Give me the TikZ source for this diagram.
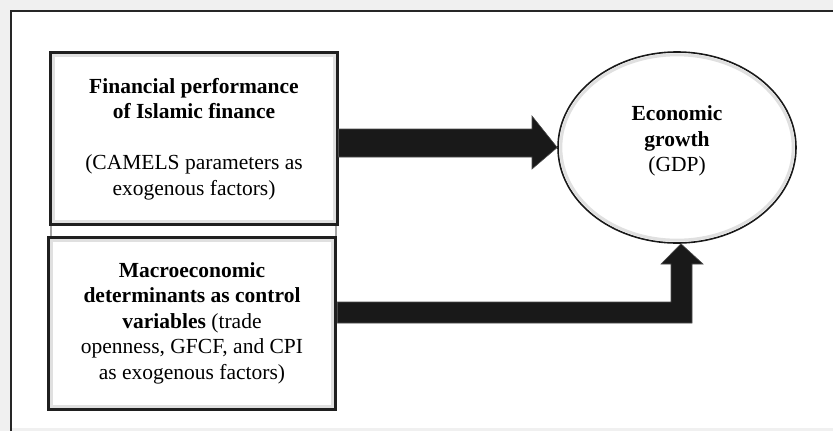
\documentclass[tikz,border=0pt]{standalone}
\usepackage{fontspec}
\setmainfont{Liberation Serif}
\usetikzlibrary{shapes.geometric,arrows.meta,calc}
\begin{document}
\begin{tikzpicture}[x=1bp,y=-1bp,
  boxstyle/.style={draw=black!88, line width=3bp, fill=white, minimum width=286bp, minimum height=172bp, inner sep=0pt},
  innershade/.style={draw=black!12, line width=3bp},
  txt/.style={align=center, font=\fontsize{21.5bp}{25.5bp}\selectfont},
  bigarrow/.style={draw=black!70, line width=0.6bp, fill=black!90}]
\useasboundingbox (0,0) rectangle (833,431);
\fill[black!6] (0,0) rectangle (833,431);
\fill[white] (10,11) rectangle (833,428);
\draw[black!85, line width=2.5bp] (11,431) -- (11,11) -- (833,11);
% gap band
\draw[black!35, line width=1.5bp] (51,224) rectangle (336,238);
% boxes
\node[boxstyle] (b1) at (194,138) {};
\draw[innershade] ($(b1.south west)+(4.5,-4.5)$) rectangle ($(b1.north east)+(-4.5,4.5)$);
\node[txt] (t1) at (194,139) {\textbf{Financial performance}\\\textbf{of Islamic finance}\\[25.5bp](CAMELS parameters as\\exogenous factors)};
\node[boxstyle] (b2) at (192,323) {};
\draw[innershade] ($(b2.south west)+(4.5,-4.5)$) rectangle ($(b2.north east)+(-4.5,4.5)$);
\node[txt] (t2) at (192,323) {\textbf{Macroeconomic}\\\textbf{determinants as control}\\\textbf{variables} (trade\\openness, GFCF, and CPI\\as exogenous factors)};
% ellipse
\node[ellipse, draw=black!90, line width=1.6bp, minimum width=238bp, minimum height=191bp, inner sep=0pt] (g) at (677,147.5) {};
\draw[black!12, line width=3bp] (g.center) ellipse [x radius=116.2bp, y radius=92.7bp];
\node[txt] (gt) at (677,141) {\textbf{Economic}\\\textbf{growth}\\(GDP)};
% arrow 1
\fill[bigarrow] ($(b1.east)+(0,-9)$) -- (532,129) -- (532,116) -- (g.west) -- (532,169) -- (532,157) -- ($(b1.east)+(0,19)$) -- cycle;
% arrow 2
\coordinate (a2) at ($(g.south)+(4,0)$);
\fill[bigarrow] ($(b2.east)+(1,-21)$) -- (671,302) -- (671,264) -- (661,264) -- (a2) -- (703,264) -- (692,264) -- (692,323) -- ($(b2.east)+(1,0)$) -- cycle;
\end{tikzpicture}
\end{document}
